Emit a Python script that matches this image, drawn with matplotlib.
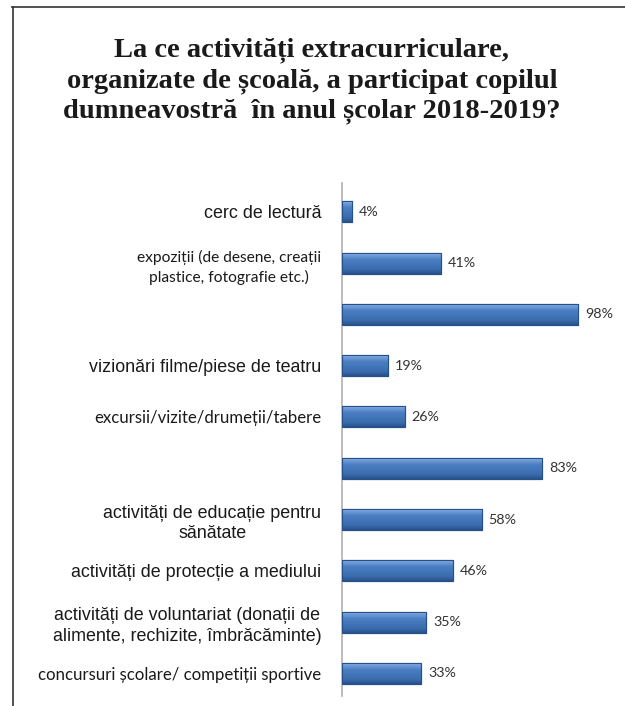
import numpy as np
import matplotlib
matplotlib.use('Agg')
import matplotlib.pyplot as plt
from matplotlib.colors import LinearSegmentedColormap
from matplotlib.lines import Line2D

title = ('La ce activități extracurriculare,\n'
         'organizate de școală, a participat copilul\n'
         'dumneavostră  în anul școlar 2018-2019?')

labels = ['cerc de lectură',
          'expoziții (de desene, creații\nplastice, fotografie etc.)',
          '',
          'vizionări filme/piese de teatru',
          'excursii/vizite/drumeții/tabere',
          '',
          'activități de educație pentru\nsănătate',
          'activități de protecție a mediului',
          'activități de voluntariat (donații de\nalimente, rechizite, îmbrăcăminte)',
          'concursuri școlare/ competiții sportive']
values = [4, 41, 98, 19, 26, 83, 58, 46, 35, 33]
# which labels were typed in the narrower "calibri" look, and their sizes
narrow = [False, True, False, False, True, False, False, False, False, True]
label_sizes = [12.9, 11.2, 12, 12.9, 12.1, 12, 12.9, 12.9, 12.9, 12.1]

W, H = 625, 706
fig = plt.figure(figsize=(W / 100, H / 100), dpi=100)

# frame lines (left + top only)
fig.add_artist(Line2D([12.5 / W, 12.5 / W], [0, 1 - 7 / H], color='#333333', lw=1.2))
fig.add_artist(Line2D([12 / W, 1], [1 - 7 / H, 1 - 7 / H], color='#333333', lw=1.2))

fig.text(312 / W, 1 - 81 / H, title, ha='center', va='center',
         family='Liberation Serif', fontweight='bold', fontsize=20.5,
         color='#1a1a1a', linespacing=1.27)

ax_left, ax_top, ax_bot = 342, 183, 696
xmax = 110
ax_w = 236 / 98 * xmax
ax = fig.add_axes([ax_left / W, 1 - ax_bot / H, ax_w / W, (ax_bot - ax_top) / H])

y = np.arange(len(values))
bars = ax.barh(y, values, height=0.41, color='#3f74b9', edgecolor='#24508c', lw=0.8, zorder=2)

cmap = LinearSegmentedColormap.from_list('bevel', [
    (0.0, '#b3cdf0'), (0.12, '#74a0da'), (0.35, '#4a7ec2'),
    (0.8, '#3a6cad'), (1.0, '#28518a')])
grad = np.linspace(0, 1, 64).reshape(-1, 1)
for b in bars:
    x0, y0, w, h = b.get_x(), b.get_y(), b.get_width(), b.get_height()
    im = ax.imshow(grad, cmap=cmap, aspect='auto', extent=[x0, x0 + w, y0 + h, y0],
                   zorder=2.5, interpolation='bilinear')
    im.set_clip_path(b)
    ax.add_patch(plt.Rectangle((x0, y0), w, h, fill=False, ec='#24508c', lw=0.8, zorder=3))

for yi, v in zip(y, values):
    ax.annotate(f'{v}%', (v, yi), xytext=(5, 0), textcoords='offset points',
                ha='left', va='center', family='Lato', fontsize=10.3, color='#333333')

ax.set_xlim(0, xmax)
ax.set_ylim(len(values) - 0.5 - 0.06, -0.5 - 0.06)
ax.set_yticks(y)
ax.set_yticklabels(labels, multialignment='center', linespacing=1.3)
ax.tick_params(axis='y', length=0, pad=15)
for t, nr, fs in zip(ax.get_yticklabels(), narrow, label_sizes):
    t.set_family('Lato' if nr else 'Liberation Sans')
    t.set_fontsize(fs)
    t.set_color('#1a1a1a')
ax.get_yticklabels()[1].set_linespacing(1.45)
ax.set_xticks([])
for s in ['top', 'right', 'bottom']:
    ax.spines[s].set_visible(False)
ax.spines['left'].set_color('#b0b0b0')
ax.spines['left'].set_linewidth(1.2)
ax.patch.set_alpha(0)

fig.savefig('out.png', dpi=100)
